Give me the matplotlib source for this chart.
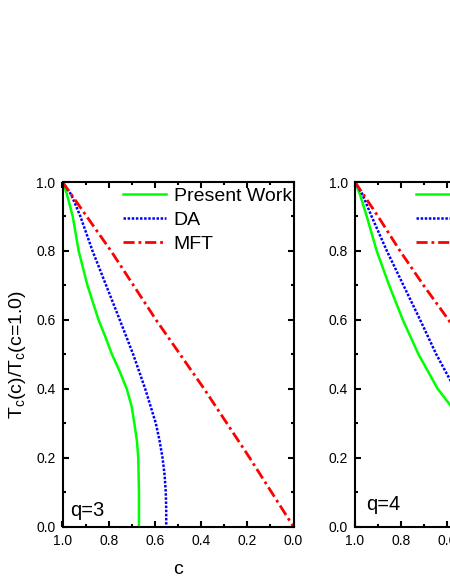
import matplotlib
matplotlib.use("Agg")
import matplotlib.pyplot as plt
from matplotlib.ticker import MultipleLocator, FormatStrFormatter

plt.rcParams['font.family'] = ['Liberation Sans', 'DejaVu Sans']
plt.rcParams['mathtext.fontset'] = 'custom'
plt.rcParams['mathtext.rm'] = 'Liberation Sans'
plt.rcParams['mathtext.it'] = 'Liberation Sans:italic'

# ---- data ----
series_labels = ["Present Work", "DA", "MFT"]
panel_labels = ["q=3", "q=4"]

c_pw3 = [1.0, 0.982, 0.956, 0.930, 0.892, 0.844, 0.814, 0.786, 0.752, 0.722, 0.701, 0.689, 0.678, 0.672, 0.669, 0.669]
t_pw3 = [1.0, 0.967, 0.901, 0.8, 0.7, 0.6, 0.55, 0.5, 0.45, 0.4, 0.35, 0.3, 0.25, 0.2, 0.1, 0.0]
c_da3 = [1.0, 0.962, 0.923, 0.870, 0.811, 0.752, 0.694, 0.642, 0.596, 0.580, 0.567, 0.558, 0.553, 0.551, 0.551]
t_da3 = [1.0, 0.963, 0.901, 0.8, 0.7, 0.6, 0.5, 0.4, 0.3, 0.25, 0.2, 0.15, 0.1, 0.05, 0.0]
c_mft3 = [1.0, 0.79, 0.595, 0.387, 0.19, 0.0]
t_mft3 = [1.0, 0.8, 0.6, 0.4, 0.2, 0.0]

c_pw4 = [1.0, 0.978, 0.949, 0.906, 0.852, 0.793, 0.725, 0.642, 0.587, 0.55]
t_pw4 = [1.0, 0.963, 0.9, 0.8, 0.7, 0.6, 0.5, 0.4, 0.352, 0.32]
c_da4 = [1.0, 0.967, 0.928, 0.862, 0.790, 0.718, 0.648, 0.590, 0.55]
t_da4 = [1.0, 0.963, 0.9, 0.8, 0.7, 0.6, 0.5, 0.428, 0.38]
c_mft4 = [1.0, 0.9, 0.805, 0.703, 0.595, 0.0]
t_mft4 = [1.0, 0.9, 0.8, 0.7, 0.6, 0.0]

panels = [
    (c_pw3, t_pw3, c_da3, t_da3, c_mft3, t_mft3),
    (c_pw4, t_pw4, c_da4, t_da4, c_mft4, t_mft4),
]

fig = plt.figure(figsize=(4.5, 5.82), dpi=100)
W, H = 450.0, 582.0
ax_w = 231 / W
ax_h = 344.7 / H
ax_b = (H - 526.7) / H
lefts = [62.5 / W, 355.0 / W]
qpos = [(0.035, 0.032), (0.05, 0.048)]

for i, (cp, tp, cd, td, cm, tm) in enumerate(panels):
    ax = fig.add_axes([lefts[i], ax_b, ax_w, ax_h])
    ax.plot(cp, tp, color='#00ff00', lw=1.8, label=series_labels[0])
    ax.plot(cd, td, color='#0000ff', lw=1.8, linestyle=(0, (1, 0.65)), label=series_labels[1])
    ax.plot(cm, tm, color='#ff0000', lw=2.0, linestyle=(0, (4, 1.4, 1, 1.4)), label=series_labels[2])
    ax.set_xlim(1.0, 0.0)
    ax.set_ylim(0.0, 1.0)
    ax.xaxis.set_major_locator(MultipleLocator(0.2))
    ax.xaxis.set_minor_locator(MultipleLocator(0.1))
    ax.yaxis.set_major_locator(MultipleLocator(0.2))
    ax.yaxis.set_minor_locator(MultipleLocator(0.1))
    ax.xaxis.set_major_formatter(FormatStrFormatter('%.1f'))
    ax.yaxis.set_major_formatter(FormatStrFormatter('%.1f'))
    for s in ax.spines.values():
        s.set_linewidth(1.5)
    ax.tick_params(which='both', direction='in', labelsize=10, pad=5, width=1.5)
    ax.tick_params(which='major', length=4)
    ax.tick_params(which='minor', length=2.5)
    ax.tick_params(which='both', top=True, right=True, labeltop=False, labelright=False)
    for t in ax.xaxis.get_ticklines(minor=False)[1::2] + ax.xaxis.get_ticklines(minor=True)[1::2]:
        t.set_color('0.8')
    for t in ax.yaxis.get_ticklines(minor=False)[1::2] + ax.yaxis.get_ticklines(minor=True)[1::2]:
        t.set_color('0.8')
    ax.legend(loc='upper left', bbox_to_anchor=(0.262, 0.985), frameon=False,
              borderpad=0, borderaxespad=0, handlelength=2.2, handletextpad=0.4,
              labelspacing=0.33, fontsize=14)
    ax.text(qpos[i][0], qpos[i][1], panel_labels[i], transform=ax.transAxes,
            fontsize=14.5, ha='left', va='baseline')
    ax.set_xlabel('c', fontsize=14)
    ax.xaxis.set_label_coords(0.5, -0.1)
    if i == 0:
        ax.set_ylabel(r'T$_\mathregular{c}$(c)/T$_\mathregular{c}$(c=1.0)', fontsize=14)
        ax.yaxis.set_label_coords(-0.15, 0.5)

fig.savefig('out.png', dpi=100)
